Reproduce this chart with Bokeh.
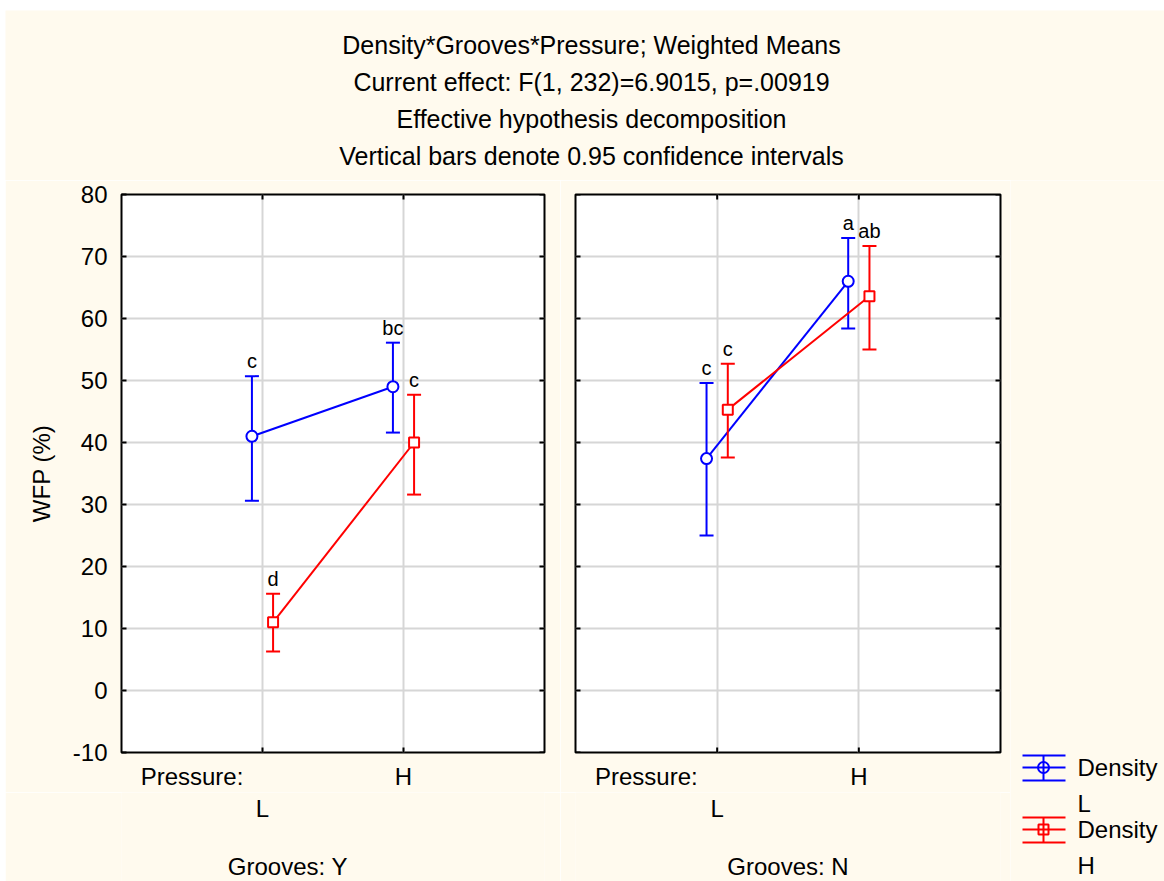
import math
from bokeh.plotting import figure
from bokeh.layouts import column, row
from bokeh.models import Range1d, FixedTicker
from bokeh.embed import file_html
from bokeh.resources import INLINE
from bokeh.core.properties import value

# ---------------- data ----------------
title_lines = [
    "Density*Grooves*Pressure; Weighted Means",
    "Current effect: F(1, 232)=6.9015, p=.00919",
    "Effective hypothesis decomposition",
    "Vertical bars denote 0.95 confidence intervals",
]
pressure_levels = ["L", "H"]
pressure_pos = [1, 2]
pressure_title = "Pressure:"
pressure_title_pos = 0.5
y_ticks = [-10, 0, 10, 20, 30, 40, 50, 60, 70, 80]
y_label = "WFP (%)"
density_names = ["Density L", "Density H"]

# Grooves: Y
y_mean_L = [41.0, 49.0]
y_lo_L = [30.6, 41.6]
y_hi_L = [50.7, 56.1]
y_let_L = ["c", "bc"]
y_mean_H = [11.0, 40.0]
y_lo_H = [6.3, 31.6]
y_hi_H = [15.6, 47.7]
y_let_H = ["d", "c"]

# Grooves: N
n_mean_L = [37.4, 66.0]
n_lo_L = [25.0, 58.4]
n_hi_L = [49.6, 73.0]
n_let_L = ["c", "a"]
n_mean_H = [45.3, 63.6]
n_lo_H = [37.6, 55.0]
n_hi_H = [52.7, 71.7]
n_let_H = ["c", "ab"]

# ---------------- style ----------------
BG = "#FFFAEE"
FONT = "Liberation Sans"
BLUE = "#0000FF"
RED = "#FF0000"
GRID = "#D6D6D6"
DODGE = 0.075

PANEL_BOTTOM = 40
PANEL_H = 14 + 558 + PANEL_BOTTOM
BOT_H = 701 - PANEL_H
ROW_H = PANEL_H + BOT_H


def series(p, xs, mean, lo, hi, letters, color, marker, msize):
    p.line(xs, mean, line_color=color, line_width=2)
    p.segment(x0=xs, y0=lo, x1=xs, y1=hi, line_color=color, line_width=2)
    p.scatter(xs, hi, marker="dash", size=14, line_color=color, line_width=2)
    p.scatter(xs, lo, marker="dash", size=14, line_color=color, line_width=2)
    p.scatter(xs, mean, marker=marker, size=msize, fill_color="white",
              line_color=color, line_width=2)
    p.text(x=xs, y=hi, text=letters, text_align="center", text_baseline="alphabetic",
           y_offset=-15, text_font=value(FONT), text_font_size="20px", text_color="black")


def panel(width, bl, br, show_y, data_L, data_H):
    p = figure(width=width, height=PANEL_H, x_range=Range1d(0, 3), y_range=Range1d(-10, 80),
               output_backend="svg", toolbar_location=None,
               min_border_left=bl, min_border_right=br, min_border_top=14,
               min_border_bottom=PANEL_BOTTOM,
               background_fill_color="white", border_fill_color=BG,
               outline_line_color="black", outline_line_width=2)
    xa = p.xaxis[0]
    xa.ticker = FixedTicker(ticks=[pressure_title_pos, pressure_pos[1]])
    xa.major_label_overrides = {pressure_title_pos: pressure_title,
                                pressure_pos[1]: pressure_levels[1]}
    xa.major_tick_in = 0
    xa.major_tick_out = 0
    xa.minor_tick_line_color = None
    xa.axis_line_color = None
    xa.major_label_text_font = FONT
    xa.major_label_text_font_size = "24px"
    xa.major_label_text_color = "black"
    xa.major_label_standoff = 10
    if show_y:
        ax = p.yaxis[0]
        ax.ticker = FixedTicker(ticks=y_ticks)
        ax.major_label_overrides = {t: str(t) for t in y_ticks}
        ax.major_tick_in = 5
        ax.major_tick_out = 0
        ax.major_tick_line_width = 2
        ax.axis_line_color = None
        ax.minor_tick_line_color = None
        ax.major_label_text_font_size = "24px"
        ax.major_label_text_font = FONT
        ax.major_label_text_color = "black"
        ax.major_label_standoff = 14
        ax.axis_label = y_label
        ax.axis_label_text_font = FONT
        ax.axis_label_text_font_size = "24px"
        ax.axis_label_text_font_style = "normal"
        ax.axis_label_text_color = "black"
        ax.axis_label_standoff = 15
    else:
        p.yaxis.visible = False
        p.scatter([p.x_range.start] * len(y_ticks), y_ticks, marker="dash", size=10,
                  line_color="black", line_width=2)

    p.xgrid.ticker = FixedTicker(ticks=pressure_pos)
    p.ygrid.ticker = FixedTicker(ticks=y_ticks)
    p.grid.grid_line_color = GRID
    p.grid.grid_line_width = 2

    # small inner tick marks on the other frame edges
    p.scatter([p.x_range.end] * len(y_ticks), y_ticks, marker="dash", size=10,
              line_color="black", line_width=2)
    for yy in (p.y_range.start, p.y_range.end):
        p.scatter(pressure_pos, [yy] * len(pressure_pos), marker="dash", angle=math.pi / 2,
                  size=10, line_color="black", line_width=2)

    xs_L = [x - DODGE for x in pressure_pos]
    xs_H = [x + DODGE for x in pressure_pos]
    series(p, xs_L, *data_L, BLUE, "circle", 11)
    series(p, xs_H, *data_H, RED, "square", 10)
    return p


def bottom(width, bl, br, x_range, groove_text, groove_x):
    b = figure(width=width, height=BOT_H, x_range=x_range, y_range=Range1d(BOT_H, 0),
               output_backend="svg", toolbar_location=None,
               min_border_left=bl, min_border_right=br, min_border_top=0, min_border_bottom=0,
               background_fill_color=BG, border_fill_color=BG, outline_line_color=None)
    b.axis.visible = False
    b.grid.visible = False
    top = 180 + PANEL_H
    b.text(x=[pressure_pos[0], groove_x], y=[808 - top, 866 - top],
           text=[pressure_levels[0], groove_text],
           text_align="center", text_baseline="middle", text_font=value(FONT),
           text_font_size="24px", text_color="black")
    return b


left = panel(555, 116, 16, True,
             (y_mean_L, y_lo_L, y_hi_L, y_let_L), (y_mean_H, y_lo_H, y_hi_H, y_let_H))
left_b = bottom(555, 116, 16, left.x_range, "Grooves: Y", 1.18)
right = panel(450, 15, 10, False,
              (n_mean_L, n_lo_L, n_hi_L, n_let_L), (n_mean_H, n_lo_H, n_hi_H, n_let_H))
right_b = bottom(450, 15, 10, right.x_range, "Grooves: N", 1.5)

# ---------------- title ----------------
TW, TH = 1159, 170
tfig = figure(width=TW, height=TH, x_range=Range1d(0, TW), y_range=Range1d(TH, 0),
              output_backend="svg", toolbar_location=None, min_border=0,
              background_fill_color=BG, border_fill_color=BG, outline_line_color=None)
tfig.axis.visible = False
tfig.grid.visible = False
tfig.text(x=[586] * 4, y=[34, 71, 108, 145], text=title_lines, text_align="center",
          text_baseline="middle", text_font=value(FONT), text_font_size="25px",
          text_color="black")

# ---------------- legend ----------------
LW = 154
lfig = figure(width=LW, height=ROW_H, x_range=Range1d(0, LW), y_range=Range1d(ROW_H, 0),
              output_backend="svg", toolbar_location=None, min_border=0,
              background_fill_color=BG, border_fill_color=BG, outline_line_color=None)
lfig.axis.visible = False
lfig.grid.visible = False
for i, (name, color, marker, msize) in enumerate(
        [(density_names[0], BLUE, "circle", 11), (density_names[1], RED, "square", 10)]):
    cy = 587 + i * 62
    lfig.segment(x0=[12, 12, 12, 33], y0=[cy - 12, cy, cy + 13, cy - 12],
                 x1=[55, 55, 55, 33], y1=[cy - 12, cy, cy + 13, cy + 13],
                 line_color=color, line_width=2)
    lfig.scatter([33], [cy], marker=marker, size=msize, fill_color=None,
                 line_color=color, line_width=2)
    word, lvl = name.split(" ")
    lfig.text(x=[67, 67], y=[cy, cy + 36], text=[word, lvl], text_align="left",
              text_baseline="middle", text_font=value(FONT), text_font_size="24px",
              text_color="black")

layout = column(tfig,
                row(column(left, left_b), column(right, right_b), lfig),
                margin=(10, 0, 0, 5))
open("out.html", "w").write(file_html(layout, INLINE))
